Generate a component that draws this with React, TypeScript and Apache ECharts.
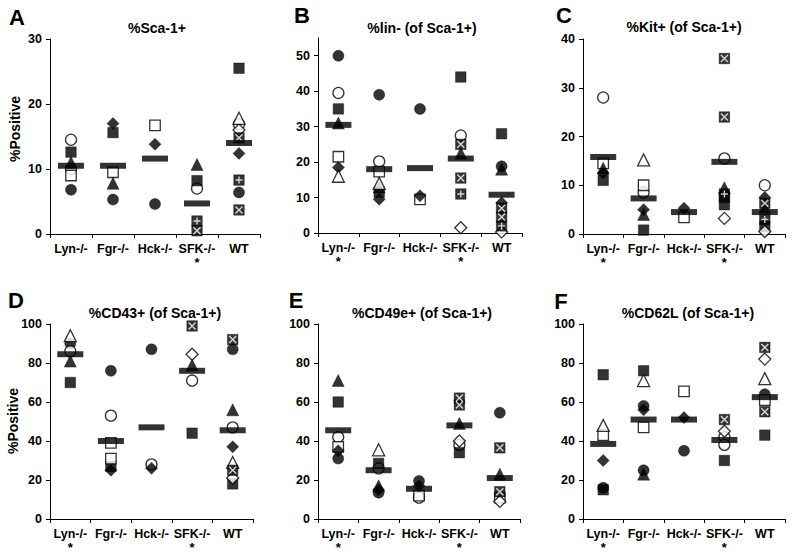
import React, { useEffect, useRef } from "react";
import * as echarts from "echarts";

const categories = ["Lyn-/-", "Fgr-/-", "Hck-/-", "SFK-/-", "WT"];
const starsA = [false, false, false, true, false];
const starsOther = [true, false, false, true, false];

// marker codes: fc filled circle, oc open circle, fs filled square, os open square,
// fd filled diamond, od open diamond, ft filled triangle, ot open triangle,
// xs square with X, ps square with plus
type P = [number, string, number];

const pointsA: P[] = [
  [0, "oc", 14.5], [0, "fs", 12.6], [0, "ft", 11], [0, "oc", 10], [0, "os", 9], [0, "fc", 6.8],
  [1, "fd", 17], [1, "fs", 15.6], [1, "os", 9.5], [1, "ft", 7.8], [1, "fc", 5.3],
  [2, "os", 16.7], [2, "fd", 13.8], [2, "fc", 4.6],
  [3, "ft", 10.7], [3, "fs", 8.2], [3, "oc", 7], [3, "ps", 2], [3, "xs", 0.5],
  [4, "fs", 25.5], [4, "ot", 17.8], [4, "oc", 16.9], [4, "od", 16], [4, "xs", 14.8], [4, "fd", 12.4],
  [4, "ps", 8.3], [4, "fc", 6.4], [4, "xs", 3.7],
];
const meansA = [10.5, 10.5, 11.6, 4.7, 14];

const pointsB: P[] = [
  [0, "fc", 50], [0, "oc", 39.5], [0, "fs", 35], [0, "ft", 31], [0, "os", 21.5], [0, "fd", 18.5], [0, "ot", 16],
  [1, "fc", 39], [1, "oc", 20.2], [1, "os", 17.3], [1, "ot", 14], [1, "ft", 13], [1, "fs", 11.5], [1, "fd", 9.5],
  [2, "fc", 35], [2, "fd", 10.5], [2, "os", 9.5],
  [3, "fs", 44], [3, "oc", 27.5], [3, "xs", 25], [3, "ft", 22.5], [3, "xs", 15.5], [3, "ps", 11], [3, "od", 1.5],
  [4, "fs", 28], [4, "fc", 18.8], [4, "ft", 18], [4, "fd", 8.5], [4, "xs", 7], [4, "xs", 4.5], [4, "ps", 2], [4, "od", 0.3],
];
const meansB = [30.5, 18, 18.3, 21, 10.8];

const pointsC: P[] = [
  [0, "oc", 28], [0, "os", 14.5], [0, "ft", 13.5], [0, "fd", 12.5], [0, "fs", 11],
  [1, "ot", 15.2], [1, "os", 10], [1, "oc", 8.5], [1, "fd", 5], [1, "ft", 4], [1, "fs", 0.8],
  [2, "fd", 5.3], [2, "os", 3.4],
  [3, "xs", 36], [3, "xs", 24], [3, "oc", 15.5], [3, "ft", 9.5], [3, "fs", 7.5], [3, "ps", 8.2], [3, "fs", 6], [3, "od", 3.2],
  [4, "oc", 10], [4, "fd", 7.5], [4, "xs", 6.3], [4, "ft", 5.5], [4, "ps", 3], [4, "fs", 1.5], [4, "od", 0.5],
];
const meansC = [15.8, 7.3, 4.5, 14.8, 4.5];

const pointsD: P[] = [
  [0, "ot", 94], [0, "fc", 90], [0, "oc", 86], [0, "ft", 81], [0, "fs", 70],
  [1, "fc", 76], [1, "oc", 53], [1, "os", 39], [1, "os", 31], [1, "fs", 27], [1, "fd", 25],
  [2, "fc", 87], [2, "oc", 28], [2, "fd", 26],
  [3, "xs", 99], [3, "od", 84.5], [3, "ft", 79], [3, "oc", 71], [3, "fs", 44],
  [4, "xs", 92], [4, "fc", 87], [4, "ft", 56], [4, "oc", 47], [4, "fd", 37], [4, "ot", 29], [4, "xs", 25], [4, "od", 21], [4, "fs", 18],
];
const meansD = [84.5, 40, 47, 76, 45.5];

const pointsE: P[] = [
  [0, "ft", 71], [0, "fs", 60], [0, "oc", 42], [0, "os", 37], [0, "fd", 35], [0, "fc", 31],
  [1, "ot", 35.5], [1, "fs", 28.5], [1, "oc", 26], [1, "ft", 17], [1, "fd", 15], [1, "fc", 13.5],
  [2, "fc", 19.5], [2, "fd", 17], [2, "os", 12], [2, "oc", 11],
  [3, "xs", 62], [3, "xs", 58.5], [3, "ft", 49], [3, "od", 40], [3, "oc", 38], [3, "fs", 34],
  [4, "fc", 54.5], [4, "xs", 36.5], [4, "ft", 23], [4, "xs", 14], [4, "os", 11], [4, "od", 9],
];
const meansE = [45.5, 25, 15.5, 48, 21];

const pointsF: P[] = [
  [0, "fs", 74], [0, "ot", 48], [0, "os", 43], [0, "fd", 30], [0, "fc", 16], [0, "fs", 15],
  [1, "fs", 76], [1, "ot", 71], [1, "fc", 58], [1, "fd", 56], [1, "os", 47], [1, "fc", 25], [1, "ft", 23],
  [2, "os", 65.5], [2, "fd", 52], [2, "fc", 35],
  [3, "xs", 51], [3, "od", 45], [3, "oc", 42], [3, "oc", 38], [3, "fs", 30],
  [4, "xs", 88], [4, "od", 82], [4, "ot", 72], [4, "fc", 64], [4, "os", 61], [4, "xs", 55], [4, "fs", 43],
];
const meansF = [38.5, 51, 51, 40.5, 62.5];

const panelTitles = ["%Sca-1+", "%lin- (of Sca-1+)", "%Kit+ (of Sca-1+)", "%CD43+ (of Sca-1+)", "%CD49e+ (of Sca-1+)", "%CD62L (of Sca-1+)"];
const panelLetters = ["A", "B", "C", "D", "E", "F"];
const yAxisTitle = "%Positive";
const yMax = [30, 55, 40, 100, 100, 100];
const yInterval = [10, 10, 10, 20, 20, 20];

const FONT = "'Liberation Sans', Arial, sans-serif";

const markerStyles: Record<string, { symbol: string; size: number; open: boolean }> = {
  fc: { symbol: "circle", size: 11, open: false },
  oc: { symbol: "circle", size: 11, open: true },
  fs: { symbol: "rect", size: 10.5, open: false },
  os: { symbol: "rect", size: 10.5, open: true },
  fd: { symbol: "diamond", size: 12, open: false },
  od: { symbol: "diamond", size: 12, open: true },
  ft: { symbol: "triangle", size: 12, open: false },
  ot: { symbol: "triangle", size: 12, open: true },
  xs: { symbol: "rect", size: 10.5, open: false },
  ps: { symbol: "rect", size: 10.5, open: false },
};

export default function App() {
  const ref = useRef<HTMLDivElement>(null);
  useEffect(() => {
    document.body.style.margin = "0";
    if (!ref.current) return;
    const chart = echarts.init(ref.current, null, { renderer: "svg" });
    const allPoints = [pointsA, pointsB, pointsC, pointsD, pointsE, pointsF];
    const allMeans = [meansA, meansB, meansC, meansD, meansE, meansF];
    const grids = [
      { left: 50, top: 39, width: 210, height: 195 },
      { left: 318, top: 38, width: 204, height: 195 },
      { left: 583, top: 39, width: 202, height: 195 },
      { left: 50, top: 324, width: 203, height: 195 },
      { left: 318, top: 324, width: 202, height: 195 },
      { left: 583, top: 324, width: 202, height: 195 },
    ];
    const titlePos = [
      [157, 28], [422, 28], [684, 27], [155, 313], [422, 313], [688, 313],
    ];
    const letterPos = [
      [17, 17], [302, 15], [564, 15], [16, 300], [296, 300], [561, 301],
    ];
    const yTitlePos = [[15, 129], [13, 421]];

    const xAxis: any[] = [];
    const yAxis: any[] = [];
    const series: any[] = [];
    for (let i = 0; i < 6; i++) {
      const stars = i === 0 ? starsA : starsOther;
      xAxis.push({
        type: "category",
        gridIndex: i,
        data: categories,
        axisLine: { show: true, lineStyle: { color: "#000", width: 1 } },
        axisTick: { show: true, length: 4, lineStyle: { color: "#000" } },
        axisLabel: {
          interval: 0,
          margin: 8,
          color: "#000",
          formatter: (v: string) => {
            const idx = categories.indexOf(v);
            return stars[idx] ? `{c|${v}}\n{s|*}` : `{c|${v}}`;
          },
          rich: {
            c: { fontFamily: FONT, fontWeight: "bold", fontSize: 12.5, color: "#000", lineHeight: 14 },
            s: { fontFamily: FONT, fontWeight: "bold", fontSize: 13, color: "#000", lineHeight: 12 },
          },
        },
      });
      const ticks: number[] = [];
      for (let v = 0; v <= yMax[i]; v += yInterval[i]) ticks.push(v);
      yAxis.push({
        type: "value",
        gridIndex: i,
        min: 0,
        max: yMax[i],
        interval: yInterval[i],
        splitLine: { show: false },
        axisLine: { show: true, lineStyle: { color: "#000", width: 1 } },
        axisTick: { show: true, length: 4, lineStyle: { color: "#000" }, customValues: ticks },
        axisLabel: {
          color: "#000",
          fontFamily: FONT,
          fontWeight: "bold",
          fontSize: 12.5,
          margin: 8,
          customValues: ticks,
        },
      });
      const pts = allPoints[i];
      Object.keys(markerStyles).forEach((code) => {
        const ms = markerStyles[code];
        const data = pts.filter((p) => p[1] === code).map((p) => [categories[p[0]], p[2]]);
        if (!data.length) return;
        series.push({
          type: "scatter",
          xAxisIndex: i,
          yAxisIndex: i,
          symbol: ms.symbol,
          symbolSize: ms.size,
          data,
          z: 2,
          itemStyle: ms.open
            ? { color: "#fff", borderColor: "#000", borderWidth: 1.3 }
            : { color: "#000", borderColor: "#000", borderWidth: 0.5 },
          silent: true,
        });
        if (code === "xs" || code === "ps") {
          series.push({
            type: "scatter",
            xAxisIndex: i,
            yAxisIndex: i,
            symbol: code === "xs" ? "path://M0,0L10,10M10,0L0,10" : "path://M5,0L5,10M0,5L10,5",
            symbolSize: 7,
            data,
            z: 3,
            itemStyle: { color: "none", borderColor: "#fff", borderWidth: 1.4 },
            silent: true,
          });
        }
      });
      series.push({
        type: "scatter",
        xAxisIndex: i,
        yAxisIndex: i,
        symbol: "rect",
        symbolSize: [26, 6],
        data: allMeans[i].map((m, k) => [categories[k], m]),
        z: 4,
        itemStyle: { color: "#000" },
        silent: true,
      });
    }

    const textStyle = (text: string, font: string) => ({
      text,
      font,
      fill: "#000",
      align: "center",
      verticalAlign: "middle",
      textAlign: "center",
      textVerticalAlign: "middle",
    });
    const graphic: any[] = [];
    for (let i = 0; i < 6; i++) {
      graphic.push({
        type: "text",
        x: titlePos[i][0],
        y: titlePos[i][1],
        style: textStyle(panelTitles[i], `bold 14px ${FONT}`),
      });
      graphic.push({
        type: "text",
        x: letterPos[i][0],
        y: letterPos[i][1],
        style: textStyle(panelLetters[i], `bold 22px ${FONT}`),
      });
    }
    yTitlePos.forEach((p) => {
      graphic.push({
        type: "text",
        x: p[0],
        y: p[1],
        rotation: Math.PI / 2,
        style: textStyle(yAxisTitle, `bold 14px ${FONT}`),
      });
    });

    chart.setOption({
      animation: false,
      backgroundColor: "#fff",
      grid: grids.map((g) => ({ ...g, containLabel: false })),
      xAxis,
      yAxis,
      series,
      graphic,
    });
    return () => chart.dispose();
  }, []);
  return <div ref={ref} style={{ width: 800, height: 557 }} />;
}
